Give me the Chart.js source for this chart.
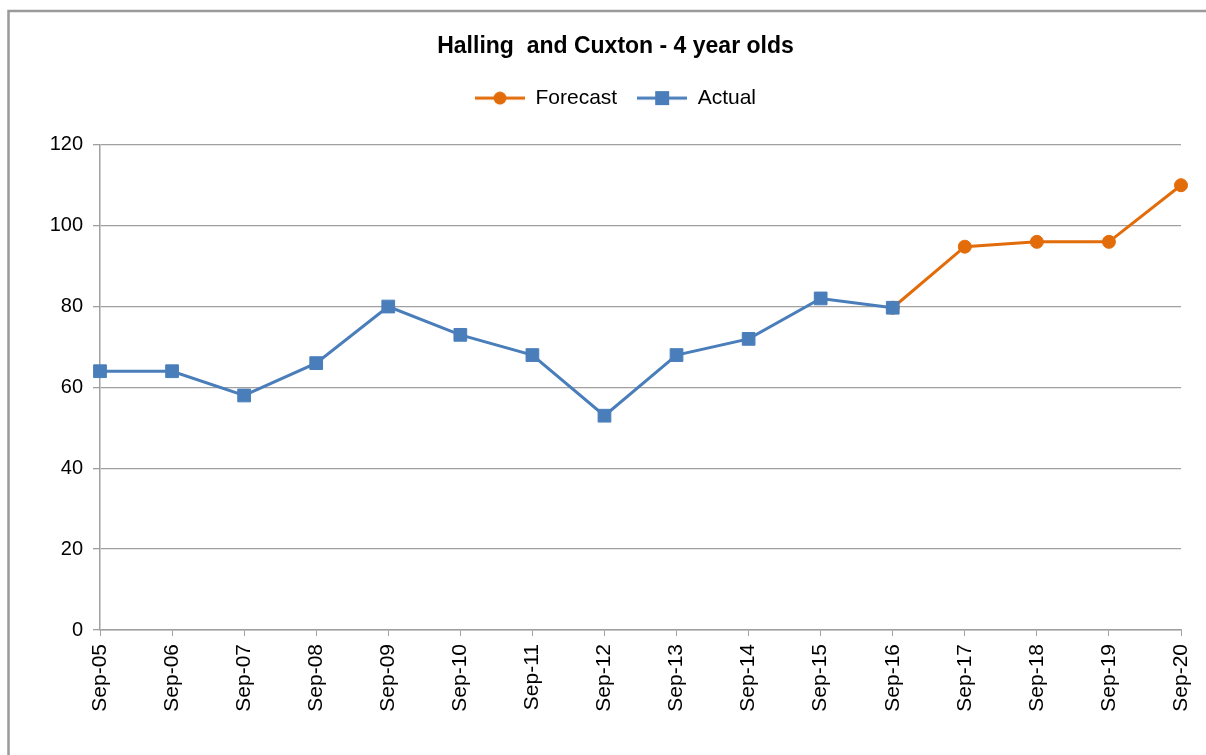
<!DOCTYPE html>
<html>
<head>
<meta charset="utf-8">
<script src="https://cdn.jsdelivr.net/npm/chart.js@4"></script>
<style>
	html, body { margin: 0; padding: 0; background: #ffffff; }
	#wrap { width: 1206px; height: 755px; position: relative; }
</style>
</head>
<body>
<div id="wrap"><canvas id="chart"></canvas></div>
<script>
var labels = ['Sep-05', 'Sep-06', 'Sep-07', 'Sep-08', 'Sep-09', 'Sep-10', 'Sep-11', 'Sep-12',
	'Sep-13', 'Sep-14', 'Sep-15', 'Sep-16', 'Sep-17', 'Sep-18', 'Sep-19', 'Sep-20']
var actual = [64, 64, 58, 66, 80, 73, 68, 53, 68, 72, 82, 79.7, null, null, null, null]
var forecast = [null, null, null, null, null, null, null, null, null, null, null, 79.7, 94.8, 96, 96, 110]
var yTicks = [0, 20, 40, 60, 80, 100, 120]

var orange = '#e36c0a'
var blue = '#4a7ebb'
var gray = '#a0a0a0'
var font = '"Liberation Sans", Arial, sans-serif'

// little line+marker pictures for the legend, like excel does
function legendIcon(color, shape)
{
	var c = document.createElement('canvas')
	c.width = 50
	c.height = 16
	var g = c.getContext('2d')
	g.strokeStyle = color
	g.lineWidth = 3
	g.beginPath()
	g.moveTo(0, 8)
	g.lineTo(50, 8)
	g.stroke()
	g.fillStyle = color
	if (shape == 'circle')
	{
		g.beginPath()
		g.arc(25, 8, 6.5, 0, Math.PI * 2)
		g.fill()
	}
	else
		g.fillRect(18, 1, 14, 14)
	return c
}
var icons = [legendIcon(orange, 'circle'), legendIcon(blue, 'rect')]

var frame = {
	id: 'frame',
	beforeDraw: function(chart)
	{
		var ctx = chart.ctx
		ctx.save()
		ctx.strokeStyle = '#9a9a9a'
		ctx.lineWidth = 2.5
		ctx.strokeRect(8.5, 11, 1300, 800)
		ctx.restore()
	}
}

var ctx = document.getElementById('chart')
var myChart = new Chart(ctx, {
	type: 'line',
	data: {
		labels: labels,
		datasets: [
		{
			label: 'Forecast',
			data: forecast,
			borderColor: orange,
			backgroundColor: orange,
			borderWidth: 3,
			pointStyle: 'circle',
			pointRadius: 6.5,
			pointBorderWidth: 1,
			pointHoverRadius: 6.5,
			spanGaps: false,
			order: 2
		},
		{
			label: 'Actual',
			data: actual,
			borderColor: blue,
			backgroundColor: blue,
			borderWidth: 3,
			pointStyle: 'rect',
			pointRadius: 9,
			pointBorderWidth: 1,
			pointHoverRadius: 9,
			order: 1
		}]
	},
	options: {
		responsive: true,
		maintainAspectRatio: false,
		animation: false,
		layout: {
			padding: { left: 50, right: 25, top: 0, bottom: 0 }
		},
		plugins: {
			title: {
				display: true,
				text: 'Halling  and Cuxton - 4 year olds',
				color: '#000000',
				font: { family: font, size: 23, weight: 'bold' },
				padding: { top: 33, bottom: 7 }
			},
			legend: {
				display: true,
				weight: 1800,
				labels: {
					usePointStyle: true,
					pointStyleWidth: 50,
					padding: 20,
					color: '#000000',
					font: { family: font, size: 21 },
					sort: function(a, b) { return a.datasetIndex - b.datasetIndex },
					generateLabels: function(chart)
					{
						var items = Chart.defaults.plugins.legend.labels.generateLabels(chart)
						for (var i = 0; i < items.length; i++)
							items[i].pointStyle = icons[items[i].datasetIndex]
						return items
					}
				}
			},
			subtitle: {
				display: true,
				text: '',
				font: { size: 1 },
				padding: { top: 0, bottom: 25 }
			},
			tooltip: { enabled: false }
		},
		scales: {
			x: {
				offset: false,
				grid: {
					display: true,
					drawOnChartArea: false,
					drawTicks: true,
					tickLength: 6,
					color: gray
				},
				border: { color: gray, width: 1.5 },
				ticks: {
					color: '#000000',
					font: { family: font, size: 21 },
					minRotation: 90,
					maxRotation: 90,
					autoSkip: false,
					padding: 8
				},
				afterFit: function(scale)
				{
					scale.height = 125
					scale.paddingLeft = 0
					scale.paddingRight = 0
				}
			},
			y: {
				min: 0,
				max: 120,
				afterBuildTicks: function(scale)
				{
					scale.ticks = yTicks.map(function(v) { return { value: v } })
				},
				grid: {
					color: gray,
					lineWidth: 1.3,
					tickLength: 7
				},
				border: { color: gray, width: 1.5 },
				ticks: {
					color: '#000000',
					font: { family: font, size: 20 },
					padding: 10
				},
				afterFit: function(scale) { scale.width = 50 }
			}
		}
	},
	plugins: [frame]
})
</script>
</body>
</html>
